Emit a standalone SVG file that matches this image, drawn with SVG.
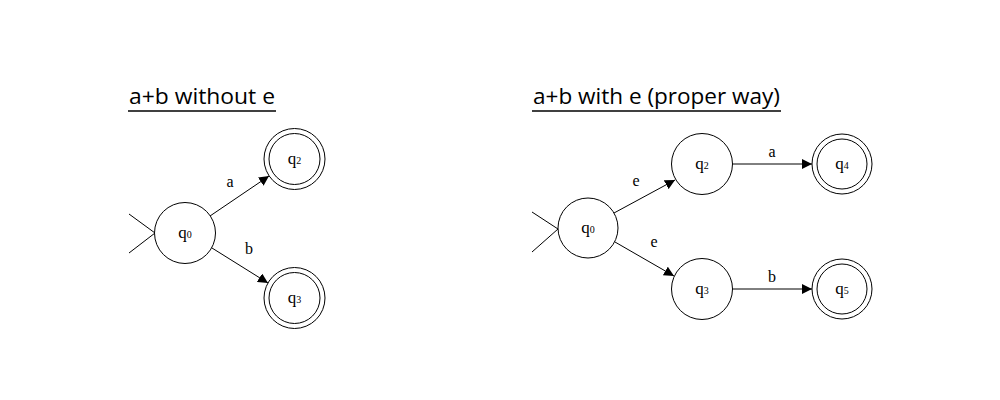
<svg xmlns="http://www.w3.org/2000/svg" width="1000" height="400" viewBox="0 0 1000 400">
  <defs>
    <marker id="arr" viewBox="0 0 10 10" refX="10" refY="5" markerWidth="10" markerHeight="10" markerUnits="userSpaceOnUse" orient="auto">
      <path d="M0,0 L10,5 L0,10 z" fill="#000"/>
    </marker>
  </defs>
  <style>
    .title { font-family: "Open Sans", "DejaVu Sans", sans-serif; font-size: 22px; fill: #000; }
    .ul { stroke: #000; stroke-width: 1.3; }
    .st { fill: #fff; stroke: #000; stroke-width: 1; }
    .lbl { font-family: "Liberation Serif", "Times New Roman", serif; font-size: 16px; fill: #000; text-anchor: middle; }
    .nt { font-family: "Liberation Serif", "Times New Roman", serif; font-size: 17px; fill: #000; text-anchor: middle; }
    .sub { font-size: 10px; }
    .edge { stroke: #000; stroke-width: 1; fill: none; }
    .edge.arrow { marker-end: url(#arr); }
  </style>
  <rect width="1000" height="400" fill="#fff"/>

  <g id="title-left">
    <text class="title" x="129" y="104" textLength="146" lengthAdjust="spacingAndGlyphs">a+b without e</text>
    <line class="ul" x1="128" y1="111" x2="276" y2="111"/>
  </g>
  <g id="title-right">
    <text class="title" x="533" y="104" textLength="247" lengthAdjust="spacingAndGlyphs">a+b with e (proper way)</text>
    <line class="ul" x1="532" y1="111" x2="781" y2="111"/>
  </g>

  <g id="connectors">
    <!-- left -->
    <path class="edge" d="M129,214 L155,233 L129,253"/>
    <line class="edge arrow" x1="210" y1="216" x2="269" y2="176"/>
    <line class="edge arrow" x1="212" y1="248" x2="268" y2="283"/>
    <!-- right -->
    <path class="edge" d="M532,212 L558,229 L532,252"/>
    <line class="edge arrow" x1="614" y1="213" x2="675" y2="180"/>
    <line class="edge arrow" x1="615" y1="242" x2="674" y2="276"/>
    <line class="edge arrow" x1="732" y1="164" x2="812" y2="164"/>
    <line class="edge arrow" x1="732" y1="289" x2="812" y2="289"/>
    <text class="lbl" x="230" y="187">a</text>
    <text class="lbl" x="249" y="254">b</text>
    <text class="lbl" x="636" y="186">e</text>
    <text class="lbl" x="654" y="247">e</text>
    <text class="lbl" x="772" y="157">a</text>
    <text class="lbl" x="772" y="282">b</text>
  </g>

  <g id="L-q0">
    <circle class="st" cx="185" cy="233" r="30.5"/>
    <text class="nt" x="185" y="238">q<tspan class="sub">0</tspan></text>
  </g>
  <g id="L-q2">
    <circle class="st" cx="294.5" cy="159" r="30.5"/>
    <circle class="st" cx="294.5" cy="159" r="25.5"/>
    <text class="nt" x="294.5" y="164">q<tspan class="sub">2</tspan></text>
  </g>
  <g id="L-q3">
    <circle class="st" cx="294.5" cy="298" r="30.5"/>
    <circle class="st" cx="294.5" cy="298" r="25.5"/>
    <text class="nt" x="294.5" y="303">q<tspan class="sub">3</tspan></text>
  </g>

  <g id="R-q0">
    <circle class="st" cx="588" cy="228" r="30"/>
    <text class="nt" x="588" y="233">q<tspan class="sub">0</tspan></text>
  </g>
  <g id="R-q2">
    <circle class="st" cx="702" cy="164" r="30.5"/>
    <text class="nt" x="702" y="169">q<tspan class="sub">2</tspan></text>
  </g>
  <g id="R-q3">
    <circle class="st" cx="702" cy="289" r="30.5"/>
    <text class="nt" x="702" y="294">q<tspan class="sub">3</tspan></text>
  </g>
  <g id="R-q4">
    <circle class="st" cx="842" cy="164" r="30"/>
    <circle class="st" cx="842" cy="164" r="25"/>
    <text class="nt" x="842" y="169">q<tspan class="sub">4</tspan></text>
  </g>
  <g id="R-q5">
    <circle class="st" cx="842" cy="289" r="30"/>
    <circle class="st" cx="842" cy="289" r="25"/>
    <text class="nt" x="842" y="294">q<tspan class="sub">5</tspan></text>
  </g>
</svg>
